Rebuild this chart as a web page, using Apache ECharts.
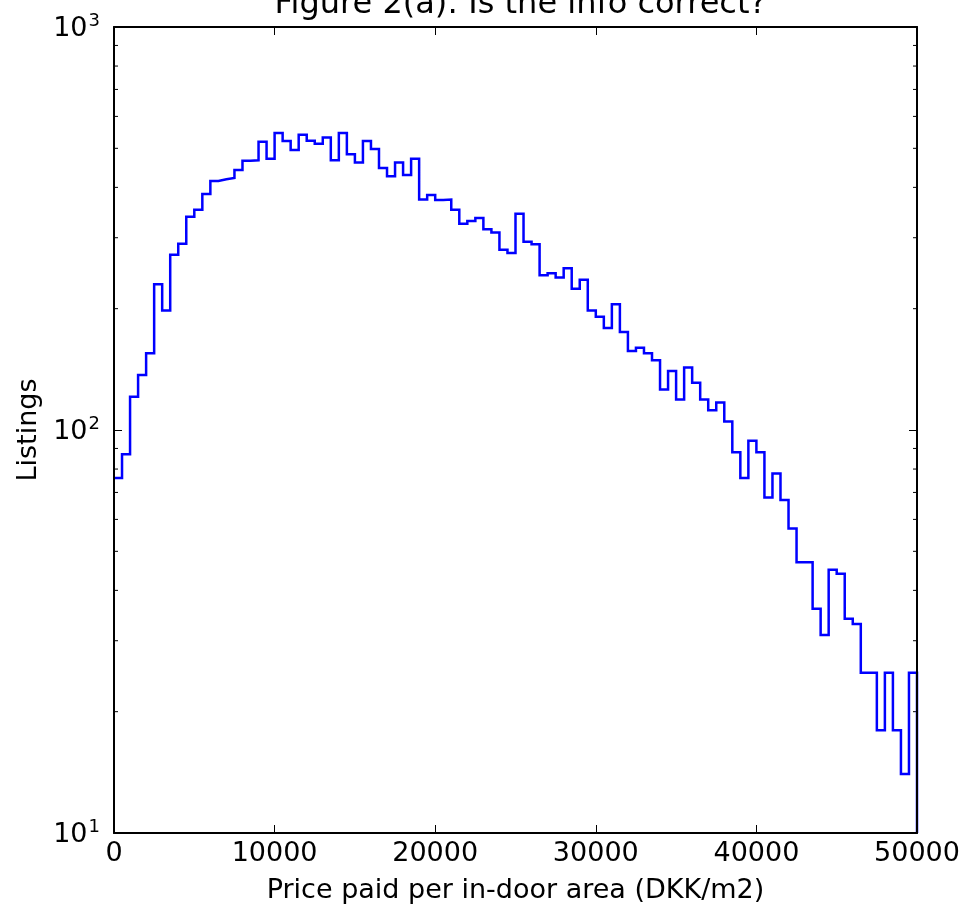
<!DOCTYPE html>
<html>
<head>
<meta charset="utf-8">
<script src="https://cdn.jsdelivr.net/npm/echarts@6/dist/echarts.min.js"></script>
<style>
  html, body { margin: 0; padding: 0; background: #fff; }
  #chart { width: 961px; height: 906px; }
</style>
</head>
<body>
<div id="chart"></div>
<script>
// Histogram of listing prices per in-door area, 100 bins of 500 DKK/m2
const BIN_WIDTH = 500;
const counts = [
  76, 87, 121, 137, 155, 230, 198, 272, 290, 338,
  352, 385, 415, 419, 422, 442, 466, 467, 519, 471,
  546, 521, 495, 540, 522, 513, 532, 467, 546, 483,
  461, 521, 498, 447, 426, 461, 429, 471, 373, 383,
  372, 373, 352, 325, 330, 336, 315, 309, 280, 275,
  344, 293, 289, 242, 245, 239, 252, 224, 236, 198,
  191, 179, 205, 175, 157, 160, 155, 149, 126, 140,
  119, 143, 131, 119, 112, 117, 105, 88, 76, 94,
  88, 68, 78, 67, 57, 47, 47, 36, 31, 45,
  44, 34, 33, 25, 25, 18, 25, 18, 14, 25
];
const xTicks = [0, 10000, 20000, 30000, 40000, 50000];
const yMajor = [10, 100, 1000];
const yMinor = [20, 30, 40, 50, 60, 70, 80, 90, 200, 300, 400, 500, 600, 700, 800, 900];

const X_MIN = 0, X_MAX = 50000, Y_MIN = 10, Y_MAX = 1000;
const FONT = 'DejaVu Sans';
const LABEL_SIZE = 27;

// Step outline: flat top per bin, dropping to the baseline after the last bin
// (the rise at x = 0 lies under the left spine)
const outline = [];
counts.forEach((c, i) => {
  outline.push([i * BIN_WIDTH, c]);
  outline.push([(i + 1) * BIN_WIDTH, c]);
});
outline.push([counts.length * BIN_WIDTH, Y_MIN]);

function powLabel(v) {
  const e = Math.round(Math.log10(v));
  return '{b|10}{s|' + e + '}';
}

const axisLine = { show: true, onZero: false, lineStyle: { color: '#000', width: 2 } };
const majorTick = { show: true, inside: true, length: 8, lineStyle: { color: '#000', width: 1 } };

const chart = echarts.init(document.getElementById('chart'), null, { renderer: 'canvas' });
chart.setOption({
  animation: false,
  backgroundColor: '#fff',
  title: {
    text: 'Figure 2(a): Is the info correct?',
    left: 515.5,
    textAlign: 'center',
    top: -16,
    textStyle: { fontFamily: FONT, fontSize: 32, fontWeight: 'normal', color: '#000' }
  },
  grid: { left: 114, right: 44, top: 27, bottom: 73, containLabel: false, outerBoundsMode: 'none' },
  xAxis: [
    {
      type: 'value', min: X_MIN, max: X_MAX, interval: 10000, z: 5,
      axisLine: axisLine,
      axisTick: majorTick,
      splitLine: { show: false },
      axisLabel: { color: '#000', fontFamily: FONT, fontSize: LABEL_SIZE, margin: 7,
        showMinLabel: true, showMaxLabel: true,
        formatter: v => xTicks.includes(v) ? String(v) : '' },
      name: 'Price paid per in-door area (DKK/m2)',
      nameLocation: 'middle', nameGap: 44,
      nameTextStyle: { color: '#000', fontFamily: FONT, fontSize: LABEL_SIZE }
    },
    {
      type: 'value', position: 'top', min: X_MIN, max: X_MAX, interval: 10000, z: 5,
      axisLine: axisLine,
      axisTick: majorTick,
      splitLine: { show: false },
      axisLabel: { show: false }
    }
  ],
  yAxis: [
    {
      type: 'log', logBase: 10, min: Y_MIN, max: Y_MAX, z: 5,
      axisLine: axisLine,
      axisTick: majorTick,
      splitLine: { show: false },
      minorTick: { show: false },
      axisLabel: {
        margin: 14,
        formatter: powLabel,
        rich: {
          b: { fontFamily: FONT, fontSize: LABEL_SIZE, color: '#000', verticalAlign: 'bottom', lineHeight: 30 },
          s: { fontFamily: FONT, fontSize: 18, color: '#000', verticalAlign: 'top', lineHeight: 30, padding: [0, 0, 12, 1] }
        }
      },
      name: 'Listings',
      nameLocation: 'middle', nameGap: 72, nameRotate: 90,
      nameTextStyle: { color: '#000', fontFamily: FONT, fontSize: LABEL_SIZE }
    },
    {
      type: 'log', logBase: 10, min: Y_MIN, max: Y_MAX, position: 'right', z: 5,
      axisLine: axisLine,
      axisTick: majorTick,
      splitLine: { show: false },
      axisLabel: { show: false }
    }
  ],
  series: [
    {
      type: 'line',
      data: outline,
      xAxisIndex: 0, yAxisIndex: 0,
      showSymbol: false, symbol: 'none',
      lineStyle: { color: '#0000ff', width: 2.5, join: 'miter' },
      clip: false,
      z: 3
    },
    {
      // Minor log ticks on both vertical spines
      type: 'custom',
      xAxisIndex: 0, yAxisIndex: 0,
      data: yMinor.map(v => [X_MIN, v]),
      clip: false,
      renderItem: function (params, api) {
        const v = api.value(1);
        const l = api.coord([X_MIN, v]);
        const r = api.coord([X_MAX, v]);
        const st = { stroke: '#000', lineWidth: 1 };
        return {
          type: 'group',
          children: [
            { type: 'line', shape: { x1: l[0], y1: l[1], x2: l[0] + 4, y2: l[1] }, style: st },
            { type: 'line', shape: { x1: r[0], y1: r[1], x2: r[0] - 4, y2: r[1] }, style: st }
          ]
        };
      },
      z: 2
    }
  ]
});
</script>
</body>
</html>
